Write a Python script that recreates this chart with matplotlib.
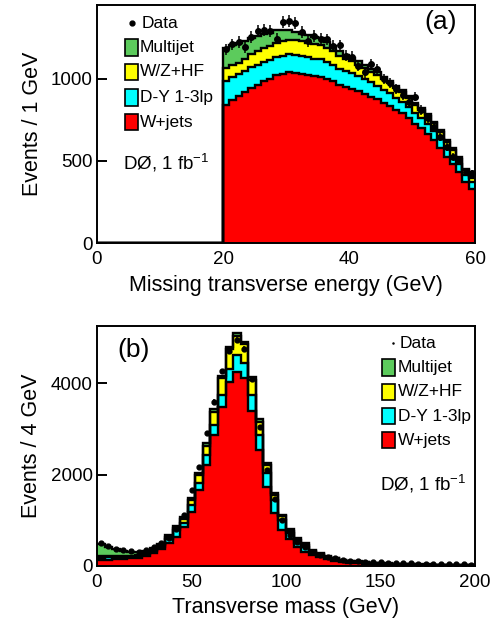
import numpy as np
import matplotlib
matplotlib.use("Agg")
import matplotlib.pyplot as plt
from matplotlib.patches import Rectangle

plt.rcParams['font.family'] = ['Liberation Sans', 'DejaVu Sans']
plt.rcParams['mathtext.fontset'] = 'custom'
plt.rcParams['mathtext.rm'] = 'Liberation Sans'
plt.rcParams['mathtext.it'] = 'Liberation Sans:italic'

# ---------------- Panel (a): missing transverse energy, 1 GeV bins 20-60 ----------------
met_lo = 20
met_wjets = [841, 872, 895, 920, 945, 963, 985, 1000, 1024, 1030, 1040, 1038, 1032, 1025, 1018,
             1014, 1000, 985, 960, 948, 940, 925, 908, 892, 875, 855, 835, 812, 790, 760,
             728, 700, 665, 625, 578, 525, 480, 432, 370, 328]
met_dy = [143, 138, 132, 128, 125, 122, 118, 115, 112, 112, 110, 110, 108, 107, 106, 105, 103, 101,
          99, 97, 95, 92, 89, 86, 83, 80, 77, 74, 71, 68, 65, 63, 61, 60, 58, 55, 52, 50, 45, 42]
met_hf = [81, 76, 72, 75, 79, 82, 84, 84, 84, 86, 88, 88, 88, 88, 87, 86, 84, 82, 80, 76,
          72, 70, 68, 66, 64, 62, 60, 58, 56, 53, 50, 48, 46, 44, 42, 38, 35, 32, 28, 28]
met_mj = [122, 122, 120, 110, 100, 95, 88, 82, 77, 68, 60, 51, 48, 45, 43, 41, 37, 33, 30, 25,
          21, 20, 19, 18, 17, 16, 15, 14, 13, 12, 12, 11, 11, 10, 10, 9, 9, 9, 8, 8]
met_data = [1180, 1210, 1225, 1195, 1255, 1290, 1300, 1290, 1245, 1345, 1350, 1340, 1285, 1228,
            1262, 1245, 1240, 1200, 1205, 1140, 1136, 1080, 1040, 1091, 1059, 998, 977, 937, 902,
            860, 892, 811, 760, 709, 644, 587, 526, 500, 435, 425]

# ---------------- Panel (b): transverse mass, 4 GeV bins 0-200 ----------------
mt_wjets = [125, 135, 145, 155, 165, 185, 225, 290, 370, 510, 641, 845, 1187, 1661, 2208, 2863,
            3468, 4029, 4248, 4102, 3380, 2535, 1734, 1151, 787, 583, 408, 313, 240, 190,
            145, 115, 90, 72, 58, 48, 40, 34, 29, 25, 22, 19, 17, 15, 13, 12, 11, 10, 9, 8]
mt_dy = [60, 55, 50, 45, 42, 40, 42, 45, 55, 90, 146, 102, 146, 160, 218, 219,
         270, 291, 364, 328, 358, 328, 292, 292, 218, 131, 100, 100, 60, 45,
         35, 30, 25, 22, 20, 18, 16, 14, 13, 12, 11, 10, 9, 9, 8, 8, 7, 7, 6, 6]
mt_hf = [25, 22, 20, 18, 16, 16, 20, 25, 32, 45, 50, 80, 110, 179, 204, 291,
         364, 416, 415, 422, 328, 292, 180, 120, 80, 57, 70, 55, 35, 30,
         25, 20, 17, 14, 12, 11, 10, 9, 8, 8, 7, 7, 6, 6, 5, 5, 5, 4, 4, 4]
mt_mj = [280, 210, 150, 110, 80, 55, 45, 38, 35, 33, 37, 51, 36, 26, 51, 51,
         51, 58, 59, 51, 58, 51, 39, 40, 30, 30, 27, 27, 15, 12,
         12, 10, 10, 9, 9, 8, 8, 8, 7, 7, 7, 6, 6, 6, 5, 5, 5, 5, 4, 4]
mt_data = [495, 430, 370, 340, 330, 300, 360, 420, 510, 610, 815, 1120, 1670, 2170, 2910, 3590,
           4255, 4700, 4940, 4740, 4080, 3030, 2100, 1460, 1005, 680, 535, 420, 315, 245,
           200, 165, 140, 120, 105, 95, 85, 78, 70, 64, 60, 55, 50, 47, 44, 40, 38, 36, 34, 32]

colors = {'W+jets': '#ff0000', 'D-Y 1-3lp': '#00ffff', 'W/Z+HF': '#ffff00', 'Multijet': '#5ccb5c'}
legend_order = ['Multijet', 'W/Z+HF', 'D-Y 1-3lp', 'W+jets']

fig = plt.figure(figsize=(5.0, 6.18), dpi=100)
W, H = 500.0, 618.0
axa = fig.add_axes([97 / W, 1 - 243 / H, 378 / W, 238 / H])
axb = fig.add_axes([97 / W, 1 - 566 / H, 378 / W, 240 / H])


def draw_stack(ax, edges, comps, names, data, centers, ms):
    base = np.zeros(len(edges) - 1)
    tops = []
    for vals, name in zip(comps, names):
        top = base + np.asarray(vals, float)
        ax.stairs(top, edges, baseline=base.copy(), fill=True, color=colors[name],
                  linewidth=0, zorder=1)
        tops.append(top)
        base = top
    for top in tops:
        ax.stairs(top, edges, baseline=None, color='black', linewidth=1.7, zorder=2)
    d = np.asarray(data, float)
    ax.errorbar(centers, d, yerr=np.sqrt(d), fmt='o', color='black', ms=ms,
                elinewidth=1.1, capsize=0, zorder=3)


def draw_legend(ax, x_box, x_txt, ys, hbox, data_y, data_x, data_ms, fs):
    ax.plot([data_x], [data_y], 'o', color='black', ms=data_ms, transform=ax.transAxes,
            clip_on=False, zorder=5)
    ax.text(x_txt + 0.005, data_y, 'Data', transform=ax.transAxes, fontsize=fs,
            va='center', ha='left', zorder=5)
    for name, y in zip(legend_order, ys):
        ax.add_patch(Rectangle((x_box, y - hbox / 2), 0.0344, hbox, transform=ax.transAxes,
                               facecolor=colors[name], edgecolor='black', linewidth=1.2,
                               zorder=5))
        ax.text(x_txt, y, name, transform=ax.transAxes, fontsize=fs, va='center',
                ha='left', zorder=5)


names = ['W+jets', 'D-Y 1-3lp', 'W/Z+HF', 'Multijet']

# panel a
pad = met_lo
edges_a = np.arange(0, 61, 1)
comps_a = [np.concatenate([np.zeros(pad), c]) for c in (met_wjets, met_dy, met_hf, met_mj)]
centers_a = np.arange(met_lo, 60) + 0.5
draw_stack(axa, edges_a, comps_a, names, met_data, centers_a, 4)
axa.set_xlim(0, 60)
axa.set_ylim(0, 1450)
axa.set_xticks([0, 20, 40, 60])
axa.set_yticks([0, 500, 1000])
axa.set_xlabel('Missing transverse energy (GeV)', fontsize=15.5, labelpad=5)
axa.set_ylabel('Events / 1 GeV', fontsize=15.5, labelpad=6)
draw_legend(axa, 0.074, 0.1138, [0.8235, 0.7185, 0.6134, 0.5084], 0.0714,
            0.924, 0.092, 3.5, 12.5)
axa.text(0.069, 0.336, r'DØ, 1 fb$^{-1}$', transform=axa.transAxes, fontsize=13.5,
         va='center', ha='left')
axa.text(0.865, 0.929, '(a)', transform=axa.transAxes, fontsize=19, va='center', ha='left')

# panel b
edges_b = np.arange(0, 201, 4)
centers_b = edges_b[:-1] + 2
draw_stack(axb, edges_b, [mt_wjets, mt_dy, mt_hf, mt_mj], names, mt_data, centers_b, 3.5)
axb.set_xlim(0, 200)
axb.set_ylim(0, 5250)
axb.set_xticks([0, 50, 100, 150, 200])
axb.set_yticks([0, 2000, 4000])
axb.set_xlabel('Transverse mass (GeV)', fontsize=15.5, labelpad=4)
axb.set_ylabel('Events / 4 GeV', fontsize=15.5, labelpad=6)
draw_legend(axb, 0.754, 0.796, [0.829, 0.725, 0.625, 0.525], 0.0708,
            0.929, 0.7825, 0.8, 12.5)
axb.text(0.749, 0.342, r'DØ, 1 fb$^{-1}$', transform=axb.transAxes, fontsize=13.5,
         va='center', ha='left')
axb.text(0.053, 0.9, '(b)', transform=axb.transAxes, fontsize=19, va='center', ha='left')

for ax in (axa, axb):
    ax.set_axisbelow(True)
    for s in ax.spines.values():
        s.set_linewidth(1.4)
        s.set_zorder(4)
    ax.tick_params(axis='x', length=0, labelsize=13.5, pad=6)
    ax.tick_params(axis='y', direction='in', length=7, width=1.4, labelsize=13.5, pad=3)

fig.savefig('out.png', dpi=100)
